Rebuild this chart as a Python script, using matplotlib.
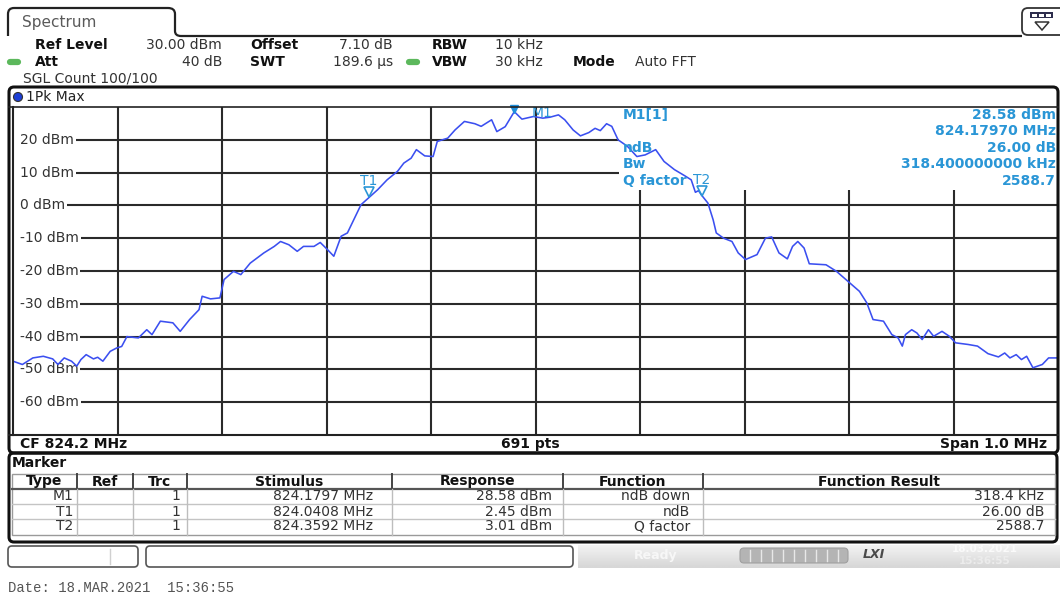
import numpy as np
import matplotlib.pyplot as plt
import matplotlib.transforms as mtransforms
from matplotlib.patches import FancyBboxPatch, Rectangle, Circle, PathPatch, Polygon
from matplotlib.path import Path

# Trace 1 (1Pk Max): frequency in MHz, level in dBm
FREQ_MHZ = [
    823.700, 823.709, 823.719, 823.729, 823.738, 823.743, 823.749, 823.756,
    823.761, 823.765, 823.770, 823.777, 823.781, 823.786, 823.793, 823.799,
    823.804, 823.809, 823.820, 823.828, 823.833, 823.841, 823.853, 823.860,
    823.869, 823.878, 823.881, 823.889, 823.898, 823.902, 823.911, 823.918,
    823.927, 823.940, 823.950, 823.956, 823.964, 823.972, 823.978, 823.988,
    823.994, 824.001, 824.007, 824.014, 824.020, 824.026, 824.033, 824.0408,
    824.049, 824.058, 824.068, 824.074, 824.081, 824.086, 824.094, 824.102,
    824.106, 824.116, 824.123, 824.132, 824.142, 824.148, 824.158, 824.163,
    824.171, 824.1797, 824.187, 824.198,
    824.207, 824.214, 824.222, 824.228, 824.236, 824.243, 824.251, 824.257,
    824.262, 824.268, 824.273, 824.279, 824.288, 824.297, 824.305, 824.315,
    824.323, 824.333, 824.343, 824.349, 824.353, 824.356, 824.3592, 824.365,
    824.370, 824.373, 824.380, 824.388, 824.394, 824.401, 824.412, 824.420,
    824.426, 824.433, 824.441, 824.446, 824.451, 824.457, 824.462, 824.478,
    824.488, 824.501, 824.510, 824.517, 824.523, 824.533, 824.541, 824.547,
    824.551, 824.554, 824.560, 824.565, 824.570, 824.576, 824.581, 824.589,
    824.596, 824.602, 824.614, 824.623, 824.633, 824.643, 824.649, 824.654,
    824.660, 824.665, 824.670, 824.676, 824.685, 824.691, 824.700,
]
LEVEL_DBM = [
    -47.5, -48.5, -46.5, -46.0, -46.8, -48.5, -46.5, -47.5,
    -49.0, -47.0, -45.5, -46.8, -46.3, -47.5, -44.5, -43.5,
    -43.0, -40.0, -40.4, -37.9, -39.4, -35.3, -35.8, -38.4,
    -34.8, -31.8, -27.7, -28.5, -28.2, -22.6, -20.1, -21.1,
    -17.6, -14.5, -12.5, -11.0, -12.0, -14.0, -12.5, -12.5,
    -11.3, -13.5, -15.5, -9.4, -8.4, -4.4, 0.2, 2.45,
    4.8, 7.8, 10.4, 12.9, 14.4, 17.0, 15.1, 14.9,
    19.5, 20.5, 23.0, 25.6, 24.9, 24.1, 26.1, 22.5,
    24.0, 28.58, 26.3, 27.1,
    26.6, 26.9, 27.6, 26.1, 23.0, 21.2, 22.2, 23.5,
    22.8, 24.9, 24.1, 20.0, 18.0, 14.9, 15.4, 17.0,
    13.4, 10.9, 9.0, 7.8, 4.0, 4.5, 3.01, 0.7,
    -4.4, -8.4, -10.0, -11.0, -14.5, -16.5, -15.0, -10.0,
    -9.6, -14.5, -16.3, -12.5, -11.0, -13.0, -17.8, -18.1,
    -20.1, -23.7, -26.2, -29.7, -34.8, -35.3, -39.4, -40.4,
    -42.9, -39.4, -37.9, -38.9, -40.9, -37.9, -39.9, -38.4,
    -39.9, -41.9, -42.4, -42.9, -45.2, -46.2, -45.0, -46.5,
    -45.5, -47.0, -46.0, -49.5, -48.5, -46.5, -46.5,
]

CENTER_MHZ = 824.2
SPAN_MHZ = 1.0
REF_LEVEL = 30
RANGE_DB = 100
LEVEL_TICKS = [20, 10, 0, -10, -20, -30, -40, -50, -60]

# markers
MARKER_NAMES = ['M1', 'T1', 'T2']
MARKER_FREQ = [824.1797, 824.0408, 824.3592]
MARKER_LEVEL = [28.58, 2.45, 3.01]
MARKER_FUNC = ['ndB down', 'ndB', 'Q factor']
MARKER_RESULT = ['318.4 kHz', '26.00 dB', '2588.7']

INFO_LABELS = ['M1[1]', 'ndB', 'Bw', 'Q factor']
INFO_VALUES = ['28.58 dBm', '824.17970 MHz', '26.00 dB', '318.400000000 kHz', '2588.7']

TRACE_BLUE = '#3b4ff0'
MARK_BLUE = '#2a96d6'
GRID = '#2a2a2a'
FS = 10

plt.rcParams['font.family'] = ['DejaVu Sans']

fig = plt.figure(figsize=(10.6, 5.97), dpi=100)
fig.patch.set_facecolor('white')

# --- trace diagram ---
ax = fig.add_axes([13 / 1060, (597 - 435) / 597, 1045 / 1060, 328 / 597])
f_lo = CENTER_MHZ - SPAN_MHZ / 2
f_hi = CENTER_MHZ + SPAN_MHZ / 2
ax.set_xlim(f_lo, f_hi)
ax.set_ylim(REF_LEVEL - RANGE_DB, REF_LEVEL)
ax.axis('off')

ax.vlines(np.linspace(f_lo, f_hi, 11)[1:-1], REF_LEVEL - RANGE_DB, REF_LEVEL,
          color=GRID, lw=1.5, zorder=1)
ax.hlines(LEVEL_TICKS, f_lo, f_hi, color=GRID, lw=1.5, zorder=1)
# marker info area hides the grid behind it
ax.add_patch(Rectangle((824.28, 4.7), f_hi - 824.28, REF_LEVEL - 4.7,
                       fc='white', ec='none', zorder=1.5))
# level labels sit on a blank strip at the left edge
ax.add_patch(Rectangle((0, 0), 7 / 1045, 1, transform=ax.transAxes,
                       fc='white', ec='none', zorder=1.5))

ytrans = mtransforms.blended_transform_factory(ax.transAxes, ax.transData)
for v in LEVEL_TICKS:
    ax.text(7 / 1045, v, f'{v} dBm', transform=ytrans, fontsize=FS, color='#333',
            va='center', ha='left', zorder=2,
            bbox=dict(boxstyle='square,pad=0.12', fc='white', ec='none'))

ax.plot(FREQ_MHZ, LEVEL_DBM, color=TRACE_BLUE, lw=1.15, zorder=3)

# marker symbols
up4 = mtransforms.offset_copy(ax.transData, fig=fig, y=5, units='dots')
ax.plot(MARKER_FREQ[0], MARKER_LEVEL[0], marker='v', ms=6, color='#1f8fdc',
        transform=mtransforms.offset_copy(ax.transData, fig=fig, y=3, units='dots'),
        zorder=4, clip_on=False)
ax.annotate('M1', (MARKER_FREQ[0], MARKER_LEVEL[0]), xytext=(17, -1),
            textcoords='offset pixels', fontsize=FS, color=MARK_BLUE,
            va='center', ha='left', zorder=4)
for name, fr, lv in zip(MARKER_NAMES[1:], MARKER_FREQ[1:], MARKER_LEVEL[1:]):
    ax.plot(fr, lv, marker='v', ms=7, mfc='none', mec=MARK_BLUE, mew=1.2,
            transform=up4, zorder=4)
    ax.annotate(name, (fr, lv), xytext=(0, 16), textcoords='offset pixels',
                fontsize=FS, color=MARK_BLUE, ha='center', va='center', zorder=4)

# pixel canvas for the instrument chrome, drawn above the diagram
ax0 = fig.add_axes([0, 0, 1, 1])
ax0.set_xlim(0, 1060)
ax0.set_ylim(597, 0)
ax0.axis('off')
ax0.set_zorder(3)

# --- tab and top line ---
tab = Path([(8, 36), (8, 14), (8, 8), (14, 8), (168, 8), (175, 8), (175, 14),
            (175, 31), (175, 36), (181, 36), (1022, 36)],
           [Path.MOVETO, Path.LINETO, Path.CURVE3, Path.CURVE3, Path.LINETO,
            Path.CURVE3, Path.CURVE3, Path.LINETO, Path.CURVE3, Path.CURVE3,
            Path.LINETO])
ax0.add_patch(PathPatch(tab, fc='none', ec='#222', lw=1.6))
ax0.text(22, 22, 'Spectrum', fontsize=11, color='#5a5a5a', va='center')

# menu button top right
ax0.add_patch(FancyBboxPatch((1022, 8), 45, 27, boxstyle='round,pad=0,rounding_size=6',
                             fc='white', ec='#333', lw=1.3))
ax0.add_patch(Rectangle((1030, 12), 23, 6, fc='#2d2d4d', ec='none'))
for bx in (1032, 1039, 1046):
    ax0.add_patch(Rectangle((bx, 13.5), 5, 3, fc='white', ec='none'))
ax0.add_patch(Polygon([(1035, 22), (1049, 22), (1042, 30)], closed=True,
                      fc='white', ec='#333', lw=1.1))


def lab(x, y, s, ha='left', bold=False, color='#222'):
    ax0.text(x, y, s, fontsize=FS, ha=ha, va='center', color=color,
             fontweight='bold' if bold else 'normal')


# --- setting lines ---
lab(35, 45, 'Ref Level', bold=True, color='#111')
lab(222, 45, '30.00 dBm', ha='right', color='#333')
lab(250, 45, 'Offset', bold=True, color='#111')
lab(393, 45, '7.10 dB', ha='right', color='#333')
lab(432, 45, 'RBW', bold=True, color='#111')
lab(543, 45, '10 kHz', ha='right', color='#333')

lab(35, 62, 'Att', bold=True, color='#111')
lab(222, 62, '40 dB', ha='right', color='#333')
lab(250, 62, 'SWT', bold=True, color='#111')
lab(393, 62, '189.6 µs', ha='right', color='#333')
lab(432, 62, 'VBW', bold=True, color='#111')
lab(543, 62, '30 kHz', ha='right', color='#333')
lab(573, 62, 'Mode', bold=True, color='#111')
lab(635, 62, 'Auto FFT', color='#333')

lab(23, 79, 'SGL Count 100/100', color='#333')

for x0 in (10, 409):
    ax0.plot([x0, x0 + 8], [62, 62], color='#5cb85c', lw=4.5, solid_capstyle='round')

# --- diagram frame ---
ax0.add_patch(FancyBboxPatch((9, 87), 1049, 366, boxstyle='round,pad=0,rounding_size=5',
                             fc='none', ec='#111', lw=2.2))
ax0.plot([9, 1058], [107, 107], color='#222', lw=1.2)
ax0.plot([9, 1058], [435, 435], color='#222', lw=1.5)
ax0.plot([13, 13], [107, 435], color='#222', lw=1.5)

ax0.add_patch(Circle((18, 97), 4.5, fc='#1c3fd6', ec='#333', lw=0.8))
lab(26, 97, '1Pk Max', color='#222')

lab(20, 444, 'CF 824.2 MHz', bold=True, color='#111')
lab(530, 444, '691 pts', ha='center', bold=True, color='#111')
lab(1047, 444, 'Span 1.0 MHz', ha='right', bold=True, color='#111')

# marker function readout
for s, y in zip(INFO_LABELS, [115, 148, 164, 181]):
    ax0.text(623, y, s, fontsize=FS, fontweight='bold', color=MARK_BLUE,
             va='center', ha='left')
for s, y in zip(INFO_VALUES, [115, 131, 148, 164, 181]):
    ax0.text(1056, y, s, fontsize=FS, fontweight='bold', color=MARK_BLUE,
             va='center', ha='right')

# --- marker table ---
ax0.add_patch(FancyBboxPatch((9, 453), 1048, 89, boxstyle='round,pad=0,rounding_size=5',
                             fc='none', ec='#111', lw=2.2))
lab(12, 463, 'Marker', bold=True, color='#111')

col_edges = [12, 77, 133, 187, 392, 563, 703, 1055]
row_edges = [474, 489, 504, 519, 535]
ax0.add_patch(Rectangle((12, 474), 1043, 61, fc='none', ec='#9a9a9a', lw=1.0))
ax0.plot([12, 1055], [489, 489], color='#555', lw=1.6)
for y in row_edges[2:-1]:
    ax0.plot([12, 1055], [y, y], color='#c4c4c4', lw=1.0)
for x in col_edges[1:-1]:
    ax0.plot([x, x], [474, 489], color='#444', lw=1.4)
    ax0.plot([x, x], [489, 535], color='#bdbdbd', lw=1.0)

headers = ['Type', 'Ref', 'Trc', 'Stimulus', 'Response', 'Function', 'Function Result']
for i, h in enumerate(headers):
    lab((col_edges[i] + col_edges[i + 1]) / 2, 481.5, h, ha='center', bold=True, color='#111')

for r, name in enumerate(MARKER_NAMES):
    y = 496.5 + 15 * r
    lab(73, y, name, ha='right', color='#333')
    lab(180, y, '1', ha='right', color='#333')
    lab(373, y, f'{MARKER_FREQ[r]:.4f} MHz', ha='right', color='#333')
    lab(552, y, f'{MARKER_LEVEL[r]:.2f} dBm', ha='right', color='#333')
    lab(690, y, MARKER_FUNC[r], ha='right', color='#333')
    lab(1044, y, MARKER_RESULT[r], ha='right', color='#333')

# --- status bar ---
ax0.add_patch(FancyBboxPatch((8, 546), 130, 21, boxstyle='round,pad=0,rounding_size=4',
                             fc='white', ec='#555', lw=1.2))
ax0.plot([110, 110], [549, 564], color='#d0d0d0', lw=1)
ax0.add_patch(FancyBboxPatch((146, 546), 427, 21, boxstyle='round,pad=0,rounding_size=4',
                             fc='white', ec='#555', lw=1.2))
grad = np.linspace(0.95, 0.84, 30)[:, None] * np.ones((30, 2))
ax0.imshow(grad, cmap='gray', vmin=0, vmax=1, extent=(578, 1060, 568, 545),
           aspect='auto', zorder=0.5)
ax0.text(656, 556, 'Ready', fontsize=9, color='#f7f7f7', ha='center', va='center',
         fontweight='bold')
ax0.add_patch(FancyBboxPatch((740, 548), 108, 15, boxstyle='round,pad=0,rounding_size=4',
                             fc='#b4b4b4', ec='#a0a0a0', lw=0.8))
for sx in np.linspace(750, 838, 9):
    ax0.plot([sx, sx], [550, 561], color='#e8e8e8', lw=1)
ax0.text(874, 555, 'LXI', fontsize=9, color='#4a4a4a', ha='center', va='center',
         fontweight='bold', fontstyle='italic')
ax0.text(985, 549, '18.03.2021', fontsize=7.5, color='#fafafa', ha='center', va='center',
         fontweight='bold')
ax0.text(985, 561, '15:36:55', fontsize=7.5, color='#ececec', ha='center', va='center',
         fontweight='bold')

ax0.text(8, 588, 'Date: 18.MAR.2021  15:36:55', fontsize=10, color='#555',
         family='Liberation Mono', va='center', ha='left')

fig.savefig('out.png', dpi=100, facecolor='white')
